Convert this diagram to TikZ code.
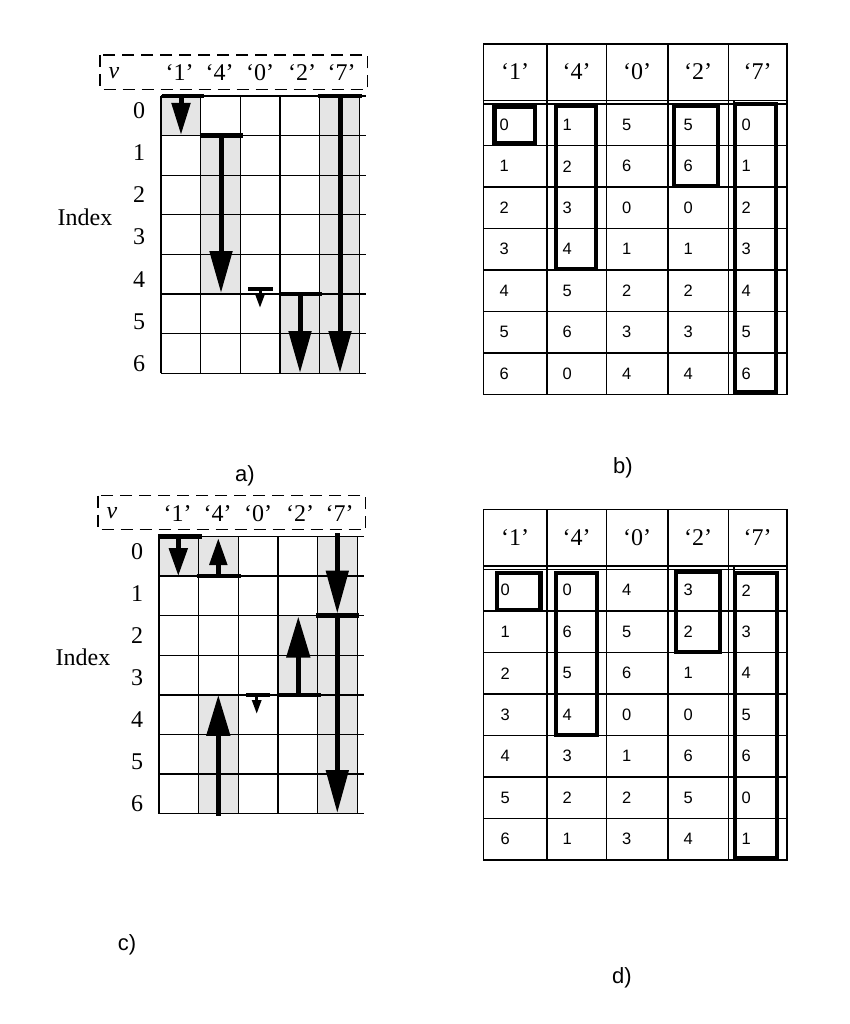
\documentclass[tikz,border=0pt]{standalone}
\usepackage{fontspec}
\setmainfont{Liberation Serif}
\setsansfont{Liberation Sans}
\usetikzlibrary{arrows.meta,calc,positioning}

% grid of one index panel, #1 = name prefix
\newcommand{\indexgrid}[1]{%
  \foreach \i in {0,...,7} \draw[thin line] (161,{96+39.6*\i}) -- (366,{96+39.6*\i});
  \foreach \j in {0,...,5} \draw[thin line] ({161+39.7*\j},96) -- ({161+39.7*\j},373.2);
  \draw[dashed box] (100,55) rectangle (367.7,89.3);
  \node[hdr] (#1v) at (114,73) {\textit{v}};
  \foreach \q/\x in {1/179.5,4/219.5,0/260,2/302,7/341.5}
    \node[hdr] (#1q\q) at (\x,73) {‘\q’};
  \foreach \i in {0,...,6}
    \node[hdr] (#1r\i) at (139,{110.8+42.1*\i}) {\i};
  \node[hdr] (#1idx) at (85,217) {Index};
}

% frame of one table, #1 = name prefix, #2 = top edge
\newcommand{\cyctable}[2]{%
  \draw[thin line] (483.3,#2) rectangle (787,{#2+350.5});
  \draw[thin line] (483.3,{#2+56.5}) -- (787,{#2+56.5});
  \foreach \k in {0,...,6} \draw[thin line] (483.3,{#2+60+41.5*\k}) -- (787,{#2+60+41.5*\k});
  \foreach \x in {547,606.5,668,728.3} \draw[thin line] (\x,#2) -- (\x,{#2+350.5});
  \draw[thin line] (734,{#2+56.5}) -- (734,{#2+350.5});
  \foreach \q/\x in {1/515.1,4/576.7,0/637.2,2/698.1,7/757.6}
    \node[hdr] (#1h\q) at (\x,{#2+28}) {‘\q’};
}

\begin{document}
\begin{tikzpicture}[x=1pt,y=-1pt]
\tikzstyle{thin line}=[line width=1.3pt]
\tikzstyle{dashed box}=[line width=1.3pt,dash pattern=on 12pt off 7pt]
\tikzstyle{shade}=[fill=black!10]
\tikzstyle{bar}=[line width=4.5pt]
\tikzstyle{shaft}=[line width=5pt]
\tikzstyle{hit box}=[line width=4.3pt]
\tikzstyle{hdr}=[font=\fontsize{24}{28}\selectfont,inner sep=0pt]
\tikzstyle{cell}=[font=\sffamily\fontsize{16.5}{19}\selectfont,anchor=west,inner sep=0pt]
\tikzstyle{caption label}=[font=\sffamily\fontsize{22}{26}\selectfont,inner sep=0pt]
\tikzstyle{big tip}=[shaft,-{Triangle[length=42pt,width=22pt]}]
\tikzstyle{tiny tip}=[line width=3pt,-{Triangle[length=14pt,width=9pt]}]
\useasboundingbox (0,0) rectangle (850,1024);

% a)
\begin{scope}
  \fill[shade] (161,96) rectangle (200.7,135.6);
  \fill[shade] (200.7,135.6) rectangle (240.4,294);
  \fill[shade] (280.1,294) rectangle (319.8,373.2);
  \fill[shade] (319.8,96) rectangle (359.5,373.2);
  \indexgrid{a}
  \draw[bar] (162,96) -- (204,96);
  \draw[bar] (199.5,135.6) -- (243,135.6);
  \draw[line width=4.3pt] (248,289.3) -- (273,289.3);
  \draw[bar] (279,294) -- (322,294);
  \draw[bar] (318,96) -- (362,96);
  \draw[shaft,-{Triangle[length=32pt,width=18pt]}] (181,96) -- (181,135);
  \draw[big tip] (221,135.6) -- (221,293);
  \draw[tiny tip] (260,289.3) -- (260,308);
  \draw[big tip] (300,294) -- (300,373);
  \draw[big tip] (340,96) -- (340,373);
\end{scope}

% c)
\begin{scope}[shift={(-2,440.5)}]
  \fill[shade] (161,96) rectangle (200.7,135.6);
  \fill[shade] (200.7,96) rectangle (240.4,135.6);
  \fill[shade] (200.7,254.4) rectangle (240.4,373.2);
  \fill[shade] (280.1,175.2) rectangle (319.8,254.4);
  \fill[shade] (319.8,96) rectangle (359.5,373.2);
  \indexgrid{c}
  \draw[bar] (160,96) -- (203.7,96);
  \draw[bar] (198.7,135.6) -- (242.7,135.6);
  \draw[line width=4.3pt] (248,254.4) -- (272,254.4);
  \draw[bar] (279,254.4) -- (322.7,254.4);
  \draw[bar] (318,175.2) -- (361,175.2);
  \draw[shaft,-{Triangle[length=28pt,width=18pt]}] (180.3,96) -- (180.3,135.6);
  \draw[shaft,-{Triangle[length=27pt,width=17pt]}] (220.3,135.6) -- (220.3,97.5);
  \draw[shaft,-{Triangle[length=41pt,width=23pt]}] (220.3,375) -- (220.3,254.4);
  \draw[tiny tip] (258.7,254.4) -- (258.7,273.5);
  \draw[shaft,-{Triangle[length=41pt,width=23pt]}] (300.3,254.4) -- (300.3,176);
  \draw[shaft,-{Triangle[length=43pt,width=22pt]}] (339.3,92.5) -- (339.3,173);
  \draw[shaft,-{Triangle[length=43pt,width=22pt]}] (339.3,175.2) -- (339.3,372.5);
\end{scope}

% b)
\cyctable{b}{44}
\foreach \rowvals [count=\r from 0] in {{0,1,5,5,0},{1,2,6,6,1},{2,3,0,0,2},{3,4,1,1,3},{4,5,2,2,4},{5,6,3,3,5},{6,0,4,4,6}} {
  \foreach \v [count=\c from 0] in \rowvals {
    \pgfmathsetmacro\tx{{499.5,562.5,622,683.5,741.5}[\c]}
    \node[cell] (b\r\c) at (\tx,{124.75+41.5*\r}) {\v};
  }
}
\draw[hit box] (494.5,106.7) rectangle (535,142.7);
\draw[hit box] (556,106) rectangle (596,268.7);
\draw[hit box] (674,106) rectangle (718,185.7);
\draw[hit box] (735,104) rectangle (776,392.5);

% d)
\cyctable{d}{509.5}
\foreach \rowvals [count=\r from 0] in {{0,0,4,3,2},{1,6,5,2,3},{2,5,6,1,4},{3,4,0,0,5},{4,3,1,6,6},{5,2,2,5,0},{6,1,3,4,1}} {
  \foreach \v [count=\c from 0] in \rowvals {
    \pgfmathsetmacro\tx{{500.5,562.5,622,683.5,741.5}[\c]}
    \node[cell] (d\r\c) at (\tx,{590.3+41.5*\r}) {\v};
  }
}
\draw[hit box] (497,573) rectangle (540.5,610);
\draw[hit box] (556,572.7) rectangle (596.7,735);
\draw[hit box] (676,571.7) rectangle (720,651.7);
\draw[hit box] (735,573) rectangle (777.3,857.7);

% captions
\node[caption label] (capa) at (245,476) {a)};
\node[caption label] (capb) at (623,468) {b)};
\node[caption label] (capc) at (127,945) {c)};
\node[caption label] (capd) at (622,978) {d)};
\end{tikzpicture}
\end{document}
